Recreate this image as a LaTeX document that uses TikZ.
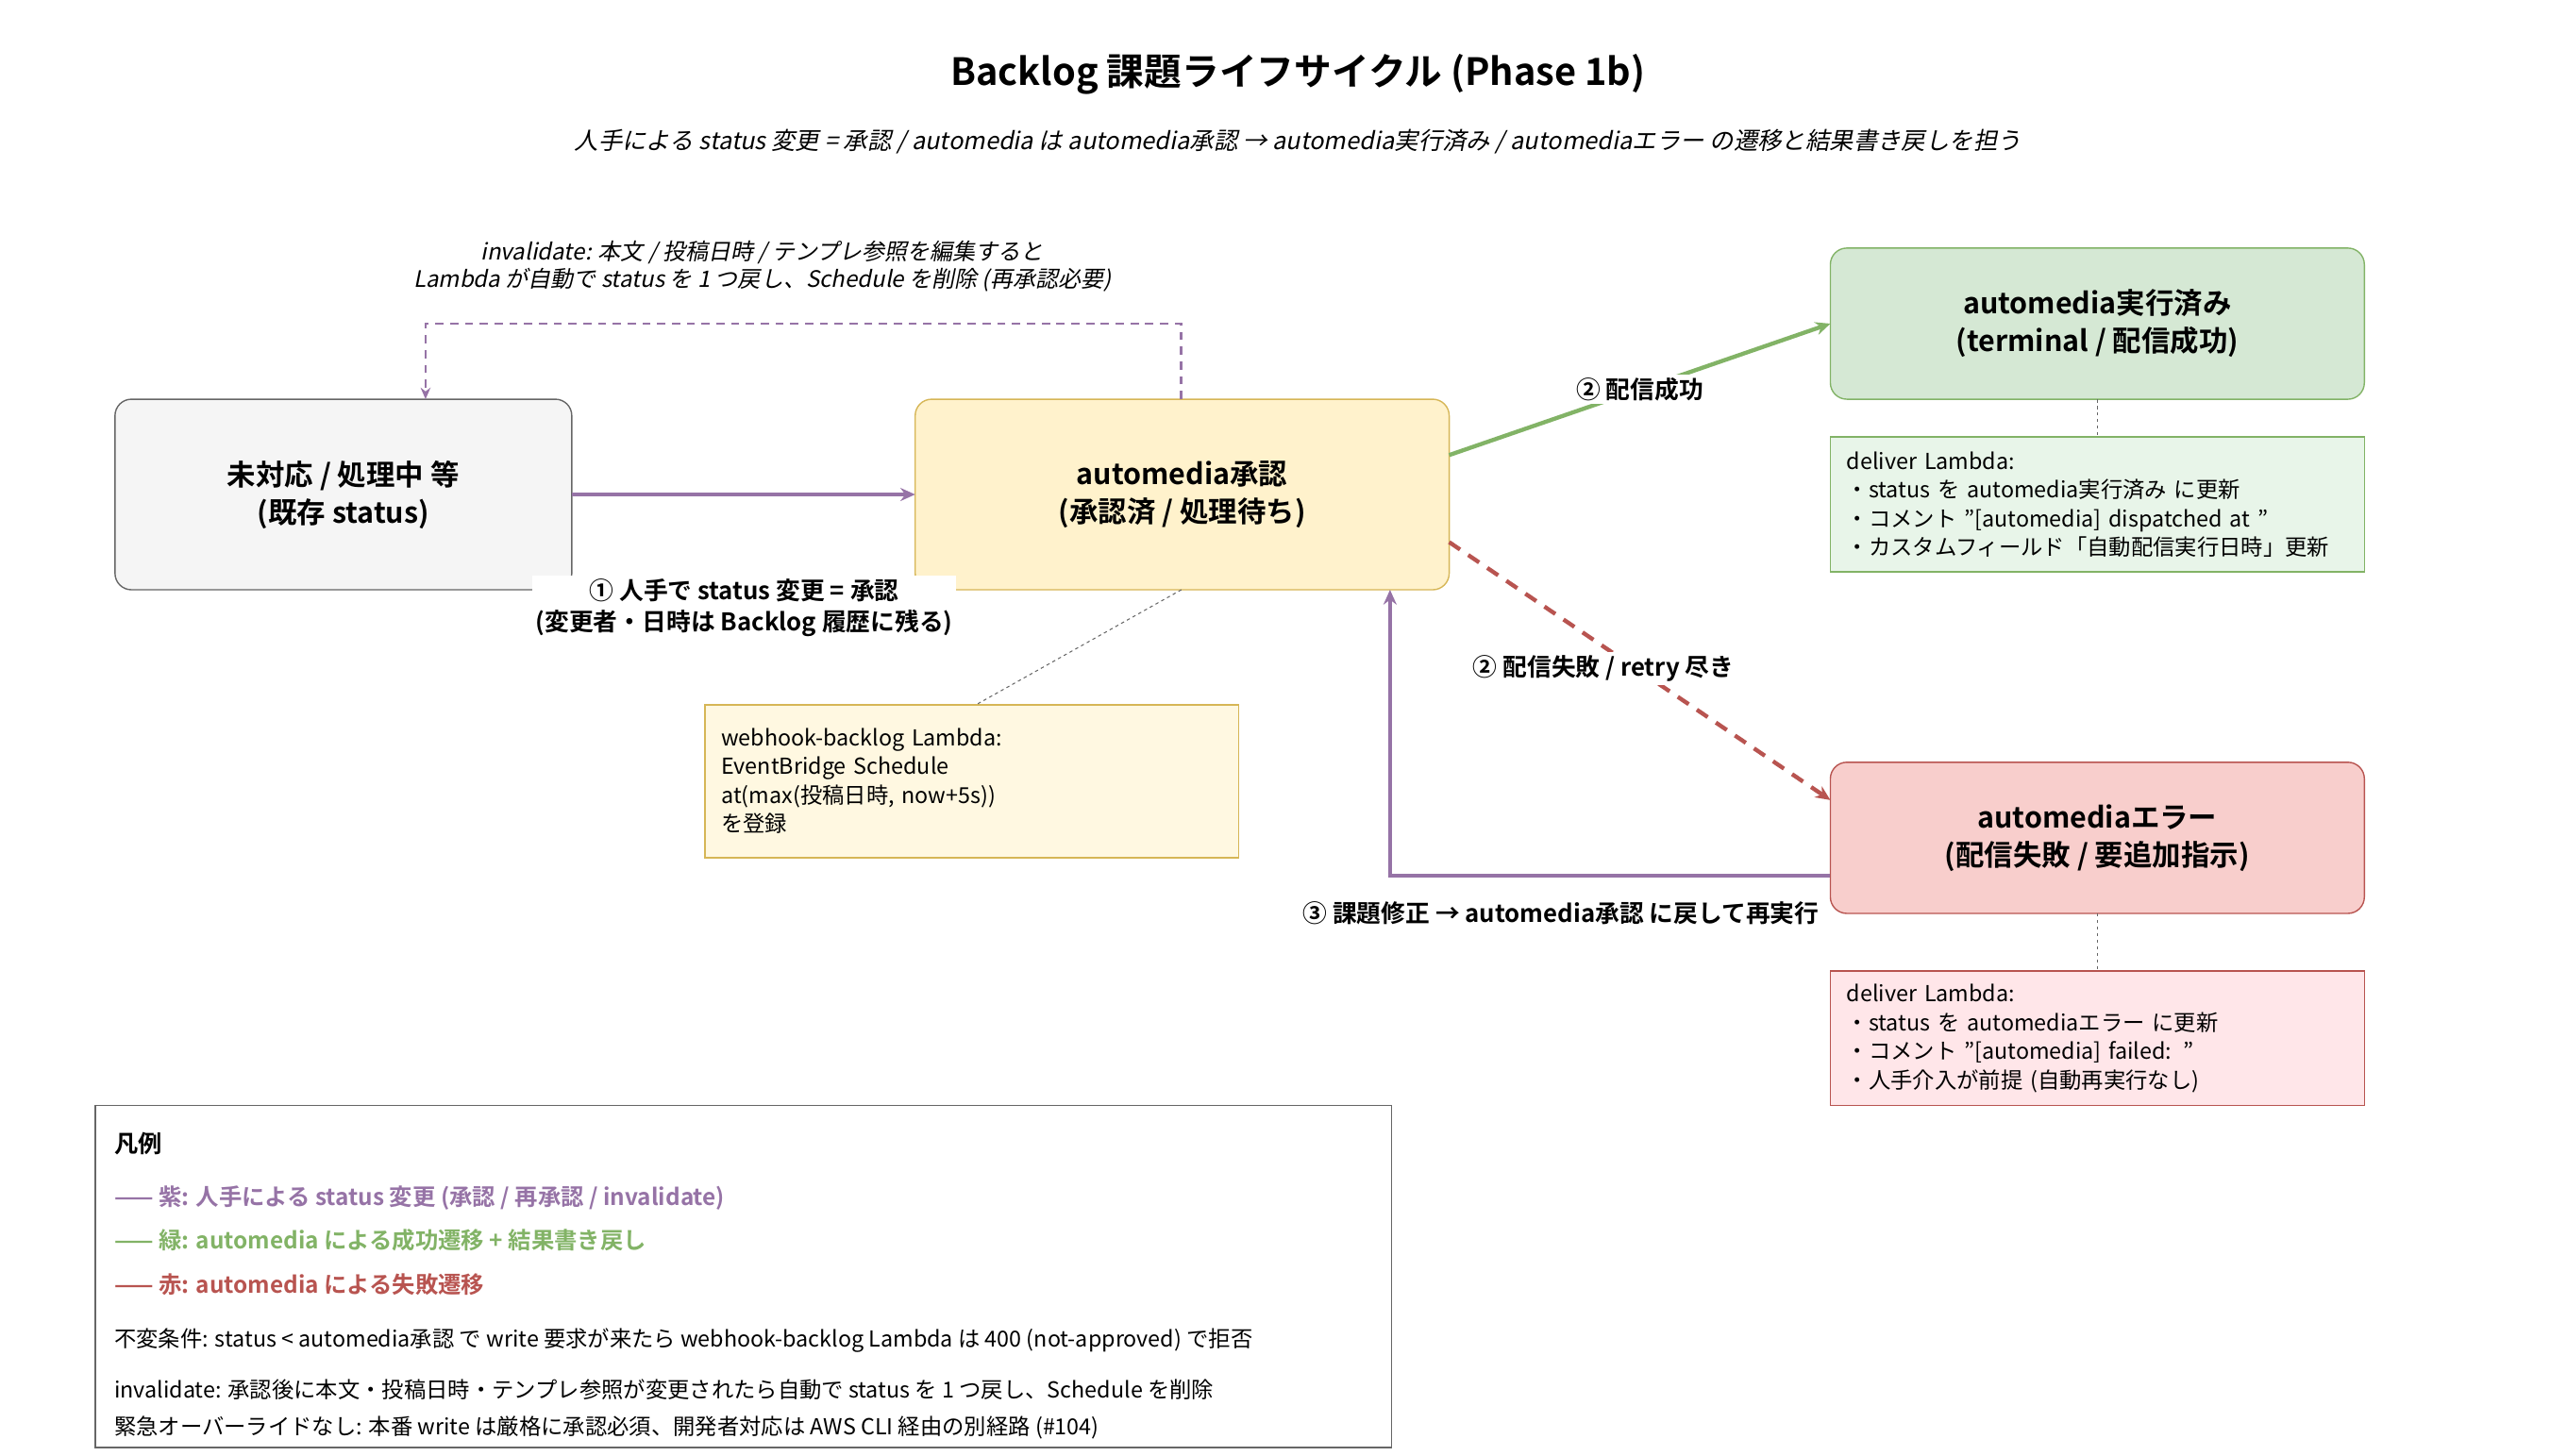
\documentclass[tikz,border=0pt]{standalone}
\usepackage{fontspec}
\setmainfont{Noto Sans CJK JP}[BoldFont={Noto Sans CJK JP Bold},ItalicFont={Noto Sans CJK JP},ItalicFeatures={FakeSlant=0.2},BoldItalicFont={Noto Sans CJK JP Bold},BoldItalicFeatures={FakeSlant=0.2}]
\usetikzlibrary{arrows.meta}
\definecolor{pur}{HTML}{9673A6}
\definecolor{grn}{HTML}{82B366}
\definecolor{rd}{HTML}{B85450}
\definecolor{gry}{HTML}{666666}
\definecolor{yfill}{HTML}{FFF2CC}
\definecolor{ydraw}{HTML}{D6B656}
\definecolor{gfill}{HTML}{D5E8D4}
\definecolor{rfill}{HTML}{F8CECC}
\definecolor{gnote}{HTML}{E8F5E9}
\definecolor{rnote}{HTML}{FFE6E9}
\definecolor{ynote}{HTML}{FFF8E1}
\definecolor{afill}{HTML}{F5F5F5}
\begin{document}
\begin{tikzpicture}[x=1pt,y=-1pt,
 state/.style={draw,rounded corners=10pt,line width=0.8pt,align=center,font=\bfseries\fontsize{17.5}{23}\selectfont,anchor=north west,outer sep=0pt},
 note/.style={draw,line width=0.8pt,align=left,anchor=north west,font=\fontsize{13.4}{17.5}\selectfont,inner xsep=10pt,outer sep=0pt},
 lbl/.style={font=\bfseries\fontsize{14.8}{19}\selectfont,align=center,fill=white,inner sep=2pt},
 link/.style={gry,dash pattern=on 2pt off 2pt,line width=0.6pt},
 tip/.style={-{Stealth[length=9pt,width=8pt]}},
 leg/.style={anchor=west,font=\fontsize{13.4}{17}\selectfont}]
\useasboundingbox (0,0) rectangle (1552,886);
\node (title) at (790,45) {\bfseries\fontsize{22.8}{28}\selectfont Backlog 課題ライフサイクル (Phase 1b)};
\node (sub) at (790,86) {\itshape\fontsize{14.6}{18}\selectfont 人手による status 変更 = 承認 / automedia は automedia承認 → automedia実行済み / automediaエラー の遷移と結果書き戻しを担う};
\node[state,fill=afill,draw=gry,minimum width=278pt,minimum height=116pt] (A) at (70,243) {未対応 / 処理中 等\\(既存 status)};
\node[state,fill=yfill,draw=ydraw,minimum width=325pt,minimum height=116pt] (B) at (557,243) {automedia承認\\(承認済 / 処理待ち)};
\node[state,fill=gfill,draw=grn,minimum width=325pt,minimum height=92pt] (C) at (1114,151) {automedia実行済み\\(terminal / 配信成功)};
\node[state,fill=rfill,draw=rd,minimum width=325pt,minimum height=92pt] (D) at (1114,464) {automediaエラー\\(配信失敗 / 要追加指示)};
\node[note,fill=gnote,draw=grn,text width=305pt,minimum height=82pt] (nC) at (1114,266) {deliver Lambda:\\・status を automedia実行済み に更新\\・コメント "[automedia] dispatched at "\\・カスタムフィールド「自動配信実行日時」更新};
\node[note,fill=rnote,draw=rd,text width=305pt,minimum height=82pt] (nD) at (1114,591) {deliver Lambda:\\・status を automediaエラー に更新\\・コメント "[automedia] failed: "\\・人手介入が前提 (自動再実行なし)};
\node[note,fill=ynote,draw=ydraw,text width=305pt,minimum height=93pt] (nB) at (429,429) {webhook-backlog Lambda:\\EventBridge Schedule\\at(max(投稿日時, now+5s))\\を登録};
\draw[link] (719,359) -- (594,429);
\draw[link] (C.south) -- (nC.north);
\draw[link] (D.south) -- (nD.north);
% arrows
\draw[pur,line width=2.5pt,tip] (A.east) -- (B.west);
\node[lbl] (l1) at (453,370) {① 人手で status 変更 = 承認\\(変更者・日時は Backlog 履歴に残る)};
\coordinate (i1) at (719,243); \coordinate (i2) at (719,197); \coordinate (i3) at (259,197); \coordinate (i4) at (259,243);
\draw[pur,line width=1.5pt,dash pattern=on 5pt off 4pt,-{Stealth[length=7pt,width=6pt,open]}] (i1) -- (i2) -- (i3) -- (i4);
\node[font=\itshape\fontsize{13.8}{17}\selectfont,align=center] (li) at (464,162) {invalidate: 本文 / 投稿日時 / テンプレ参照を編集すると\\Lambda が自動で status を 1 つ戻し、Schedule を削除 (再承認必要)};
\coordinate (g1) at (882,277); \coordinate (g2) at (1114,197);
\draw[grn,line width=2.5pt,tip] (g1) -- (g2);
\node[lbl] (l2) at (998,237) {② 配信成功};
\coordinate (r1) at (882,330); \coordinate (r2) at (1114,487);
\draw[rd,line width=2.5pt,dash pattern=on 8pt off 6pt,tip] (r1) -- (r2);
\node[lbl] (l3) at (976,407) {② 配信失敗 / retry 尽き};
\coordinate (p1) at (1114,533); \coordinate (p2) at (846,533); \coordinate (p3) at (846,359);
\draw[pur,line width=2pt,tip] (p1) -- (p2) -- (p3);
\node[lbl] (l4) at (950,556) {③ 課題修正 → automedia承認 に戻して再実行};
% legend
\node[draw=gry,line width=0.8pt,minimum width=789pt,minimum height=208pt,anchor=north west,outer sep=0pt] (L) at (58,673) {};
\node[leg,font=\bfseries\fontsize{14.5}{18}\selectfont] (L0) at (66,696) {凡例};
\node[leg,text=pur,font=\bfseries\fontsize{14}{18}\selectfont] (L1) at (66,729) {—— 紫: 人手による status 変更 (承認 / 再承認 / invalidate)};
\node[leg,text=grn,font=\bfseries\fontsize{14}{18}\selectfont] (L2) at (66,755) {—— 緑: automedia による成功遷移 + 結果書き戻し};
\node[leg,text=rd,font=\bfseries\fontsize{14}{18}\selectfont] (L3) at (66,782) {—— 赤: automedia による失敗遷移};
\node[leg] (L4) at (66,816) {不変条件: status < automedia承認 で write 要求が来たら webhook-backlog Lambda は 400 (not-approved) で拒否};
\node[leg] (L5) at (66,846) {invalidate: 承認後に本文・投稿日時・テンプレ参照が変更されたら自動で status を 1 つ戻し、Schedule を削除};
\node[leg] (L6) at (66,869) {緊急オーバーライドなし: 本番 write は厳格に承認必須、開発者対応は AWS CLI 経由の別経路 (\#104)};
\end{tikzpicture}
\end{document}
